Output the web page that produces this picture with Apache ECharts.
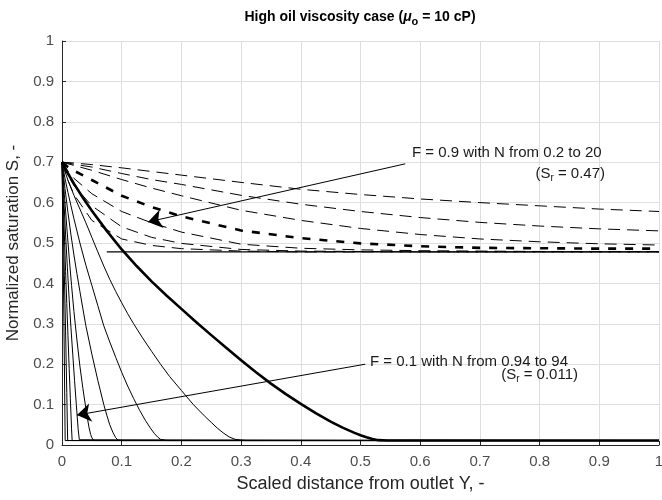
<!DOCTYPE html>
<html>
<head>
<meta charset="utf-8">
<title>High oil viscosity case</title>
<script src="https://cdn.jsdelivr.net/npm/echarts@6/dist/echarts.min.js"></script>
<style>
  html, body { margin: 0; padding: 0; background: #fff; }
  #chart { width: 662px; height: 500px; }
</style>
</head>
<body>
<div id="chart"></div>
<script>
// Tick labels of both axes
const xTicks = ['0', '0.1', '0.2', '0.3', '0.4', '0.5', '0.6', '0.7', '0.8', '0.9', '1'];
const yTicks = ['0', '0.1', '0.2', '0.3', '0.4', '0.5', '0.6', '0.7', '0.8', '0.9', '1'];

// F = 0.9 family (dashed), sampled on a shared x grid
const dashX = [0, 0.01, 0.02, 0.05, 0.1, 0.15, 0.2, 0.3, 0.4, 0.5, 0.6, 0.7, 0.8, 0.9, 1.0];
const dashN02 = [0.700, 0.699, 0.698, 0.694, 0.686, 0.677, 0.668, 0.650, 0.633, 0.620, 0.609, 0.600, 0.592, 0.584, 0.578];
const dashN05 = [0.700, 0.698, 0.695, 0.688, 0.672, 0.657, 0.645, 0.618, 0.596, 0.578, 0.563, 0.551, 0.542, 0.535, 0.530];
const dashN1 = [0.700, 0.696, 0.692, 0.680, 0.657, 0.636, 0.617, 0.581, 0.556, 0.536, 0.521, 0.510, 0.503, 0.498, 0.495];
const dashN2 = [0.700, 0.688, 0.679, 0.656, 0.617, 0.589, 0.566, 0.531, 0.512, 0.499, 0.492, 0.488, 0.487, 0.486, 0.486]; // bold
const dashN5 = [0.700, 0.678, 0.660, 0.622, 0.578, 0.550, 0.527, 0.497, 0.487, 0.483, 0.481, 0.480, 0.479, 0.479, 0.479];
const dashN10 = [0.700, 0.668, 0.642, 0.592, 0.540, 0.514, 0.499, 0.484, 0.480, 0.479, 0.478, 0.478, 0.478, 0.478, 0.478];
const dashN20 = [0.700, 0.655, 0.620, 0.556, 0.510, 0.494, 0.486, 0.480, 0.478, 0.478, 0.478, 0.478, 0.478, 0.478, 0.478];
const residualLine = [[0.075, 0.478], [1, 0.478]];

// F = 0.1 family (solid), [x, S] pairs
const solidN094 = [[0, 0.70], [0.01, 0.672], [0.02, 0.647], [0.035, 0.612], [0.05, 0.58], [0.075, 0.53], [0.1, 0.484], [0.125, 0.443], [0.15, 0.405], [0.175, 0.37], [0.2, 0.337], [0.225, 0.304], [0.25, 0.272], [0.275, 0.241], [0.3, 0.21], [0.325, 0.18], [0.35, 0.152], [0.375, 0.126], [0.4, 0.102], [0.425, 0.079], [0.45, 0.058], [0.47, 0.043], [0.49, 0.03], [0.5, 0.024], [0.51, 0.019], [0.52, 0.015], [0.53, 0.012], [0.545, 0.011], [1, 0.011]];
const solidN17 = [[0, 0.70], [0.01, 0.655], [0.02, 0.618], [0.03, 0.584], [0.04, 0.55], [0.05, 0.514], [0.06, 0.478], [0.07, 0.443], [0.08, 0.41], [0.09, 0.38], [0.1, 0.352], [0.11, 0.325], [0.12, 0.30], [0.135, 0.265], [0.15, 0.232], [0.165, 0.2], [0.18, 0.17], [0.2, 0.135], [0.22, 0.10], [0.24, 0.07], [0.25, 0.056], [0.26, 0.042], [0.27, 0.03], [0.28, 0.02], [0.29, 0.014], [0.30, 0.012], [0.31, 0.011], [1, 0.011]];
const solidN30 = [[0, 0.70], [0.005, 0.66], [0.01, 0.625], [0.015, 0.592], [0.02, 0.56], [0.03, 0.50], [0.04, 0.445], [0.05, 0.395], [0.06, 0.345], [0.07, 0.295], [0.08, 0.255], [0.09, 0.217], [0.1, 0.18], [0.11, 0.146], [0.12, 0.115], [0.13, 0.086], [0.14, 0.06], [0.148, 0.042], [0.155, 0.028], [0.16, 0.02], [0.165, 0.014], [0.175, 0.011], [1, 0.011]];
const solidN53 = [[0, 0.70], [0.005, 0.635], [0.01, 0.575], [0.015, 0.52], [0.02, 0.47], [0.025, 0.424], [0.03, 0.38], [0.035, 0.337], [0.04, 0.295], [0.05, 0.225], [0.06, 0.16], [0.07, 0.10], [0.075, 0.074], [0.08, 0.05], [0.085, 0.032], [0.09, 0.018], [0.094, 0.012], [0.1, 0.011], [1, 0.011]];
const solidN94 = [[0, 0.70], [0.004, 0.62], [0.008, 0.54], [0.012, 0.465], [0.016, 0.395], [0.02, 0.33], [0.025, 0.26], [0.03, 0.195], [0.035, 0.14], [0.04, 0.09], [0.045, 0.045], [0.048, 0.026], [0.05, 0.018], [0.053, 0.011], [1, 0.011]];
const solidN167 = [[0, 0.70], [0.003, 0.61], [0.006, 0.52], [0.009, 0.44], [0.012, 0.36], [0.015, 0.29], [0.018, 0.225], [0.021, 0.16], [0.024, 0.10], [0.027, 0.04], [0.029, 0.013], [0.03, 0.011], [1, 0.011]];
const solidN297 = [[0, 0.70], [0.002, 0.61], [0.004, 0.52], [0.006, 0.43], [0.008, 0.35], [0.01, 0.27], [0.012, 0.19], [0.014, 0.115], [0.016, 0.04], [0.017, 0.011], [1, 0.011]];
const solidN529 = [[0, 0.70], [0.002, 0.56], [0.004, 0.42], [0.006, 0.28], [0.008, 0.13], [0.0095, 0.011], [1, 0.011]];
const solidN94b = [[0, 0.70], [0.002, 0.46], [0.004, 0.20], [0.0053, 0.011], [1, 0.011]];

// Annotation arrows: [tail, head] in data units
const arrowHigh = [[0.575, 0.696], [0.144, 0.552]];
const arrowLow = [[0.508, 0.200], [0.025, 0.074]];

const FONT = '"Liberation Sans", Arial, sans-serif';
const INK = '#000';
const TEXT = '#1a1a1a';

function zipX(xs, ys) {
    return xs.map((x, i) => [x, ys[i]]);
}

function curve(data, width, dash) {
    return {
        type: 'line',
        data: data,
        showSymbol: false,
        symbol: 'none',
        smooth: false,
        silent: true,
        lineStyle: { color: INK, width: width, type: dash || 'solid', cap: 'butt', join: 'round' },
        z: 3
    };
}

function arrow(coords) {
    return {
        type: 'lines',
        coordinateSystem: 'cartesian2d',
        data: [{ coords: coords }],
        symbol: ['none', 'arrow'],
        symbolSize: [9, 14],
        lineStyle: { color: INK, width: 1, opacity: 1, curveness: 0 },
        silent: true,
        z: 5
    };
}

const dashedThin = [dashN02, dashN05, dashN1, dashN5, dashN10, dashN20];
const solidThin = [solidN17, solidN30, solidN53, solidN94, solidN167, solidN297, solidN529, solidN94b];

const series = [];
dashedThin.forEach(ys => series.push(curve(zipX(dashX, ys), 1, [12, 7])));
series.push(curve(zipX(dashX, dashN2), 2.6, [8, 9]));
series.push(curve(residualLine, 1.2));
solidThin.forEach(d => series.push(curve(d, 1)));
series.push(curve(solidN094, 2.6));
series.push(arrow(arrowHigh));
series.push(arrow(arrowLow));

const subStyle = { fontSize: 10, fontFamily: FONT, fill: TEXT, padding: [8, 0, 0, 0] };

const chart = echarts.init(document.getElementById('chart'), null, { renderer: 'canvas' });

chart.setOption({
    animation: false,
    backgroundColor: '#fff',
    // v6 would otherwise shrink the grid to keep names inside the canvas
    grid: { left: 62, right: 3, top: 41, bottom: 55, containLabel: false, outerBoundsMode: 'none' },
    xAxis: {
        type: 'value',
        min: 0,
        max: 1,
        interval: 0.1,
        name: 'Scaled distance from outlet Y, -',
        nameLocation: 'middle',
        nameGap: 30,
        nameTextStyle: { fontFamily: FONT, fontSize: 18, color: '#262626' },
        axisLine: { show: true, lineStyle: { color: '#262626', width: 1 } },
        axisTick: { show: true, inside: true, length: 4, lineStyle: { color: '#262626' } },
        axisLabel: {
            fontFamily: FONT, fontSize: 15, color: '#4d4d4d', margin: 9,
            formatter: (v) => xTicks[Math.round(v * 10)]
        },
        splitLine: { show: true, lineStyle: { color: '#dedede', width: 1 } }
    },
    yAxis: {
        type: 'value',
        min: 0,
        max: 1,
        interval: 0.1,
        name: 'Normalized saturation S, -',
        nameLocation: 'middle',
        nameGap: 28,
        nameTextStyle: { fontFamily: FONT, fontSize: 17, color: '#262626' },
        axisLine: { show: true, lineStyle: { color: '#262626', width: 1 } },
        axisTick: { show: true, inside: true, length: 4, lineStyle: { color: '#262626' } },
        axisLabel: {
            fontFamily: FONT, fontSize: 15, color: '#4d4d4d', margin: 8,
            formatter: (v) => yTicks[Math.round(v * 10)]
        },
        splitLine: { show: true, lineStyle: { color: '#dedede', width: 1 } }
    },
    graphic: [
        {
            type: 'text', x: 360, y: 17, z: 10,
            style: {
                text: 'High oil viscosity case ({i|μ}{sub|o} = 10 cP)',
                font: 'bold 14px ' + FONT, fill: INK, align: 'center', verticalAlign: 'middle',
                rich: {
                    i: { fontSize: 14, fontFamily: FONT, fontWeight: 'bold', fontStyle: 'italic', fill: INK },
                    sub: { fontSize: 11, fontFamily: FONT, fontWeight: 'bold', fill: INK, padding: [9, 0, 0, 0] }
                }
            }
        },
        {
            type: 'text', x: 412, y: 153, z: 10,
            style: { text: 'F = 0.9 with N from 0.2 to 20', font: '15px ' + FONT, fill: TEXT, align: 'left', verticalAlign: 'middle' }
        },
        {
            type: 'text', x: 605, y: 174, z: 10,
            style: {
                text: '(S{sub|r} = 0.47)', font: '15px ' + FONT, fill: TEXT, align: 'right', verticalAlign: 'middle',
                rich: { sub: subStyle }
            }
        },
        {
            type: 'text', x: 370, y: 362, z: 10,
            style: { text: 'F = 0.1 with N from 0.94 to 94', font: '15px ' + FONT, fill: TEXT, align: 'left', verticalAlign: 'middle' }
        },
        {
            type: 'text', x: 578, y: 375, z: 10,
            style: {
                text: '(S{sub|r} = 0.011)', font: '15px ' + FONT, fill: TEXT, align: 'right', verticalAlign: 'middle',
                rich: { sub: subStyle }
            }
        }
    ],
    series: series
});

window.addEventListener('resize', () => chart.resize());
</script>
</body>
</html>
